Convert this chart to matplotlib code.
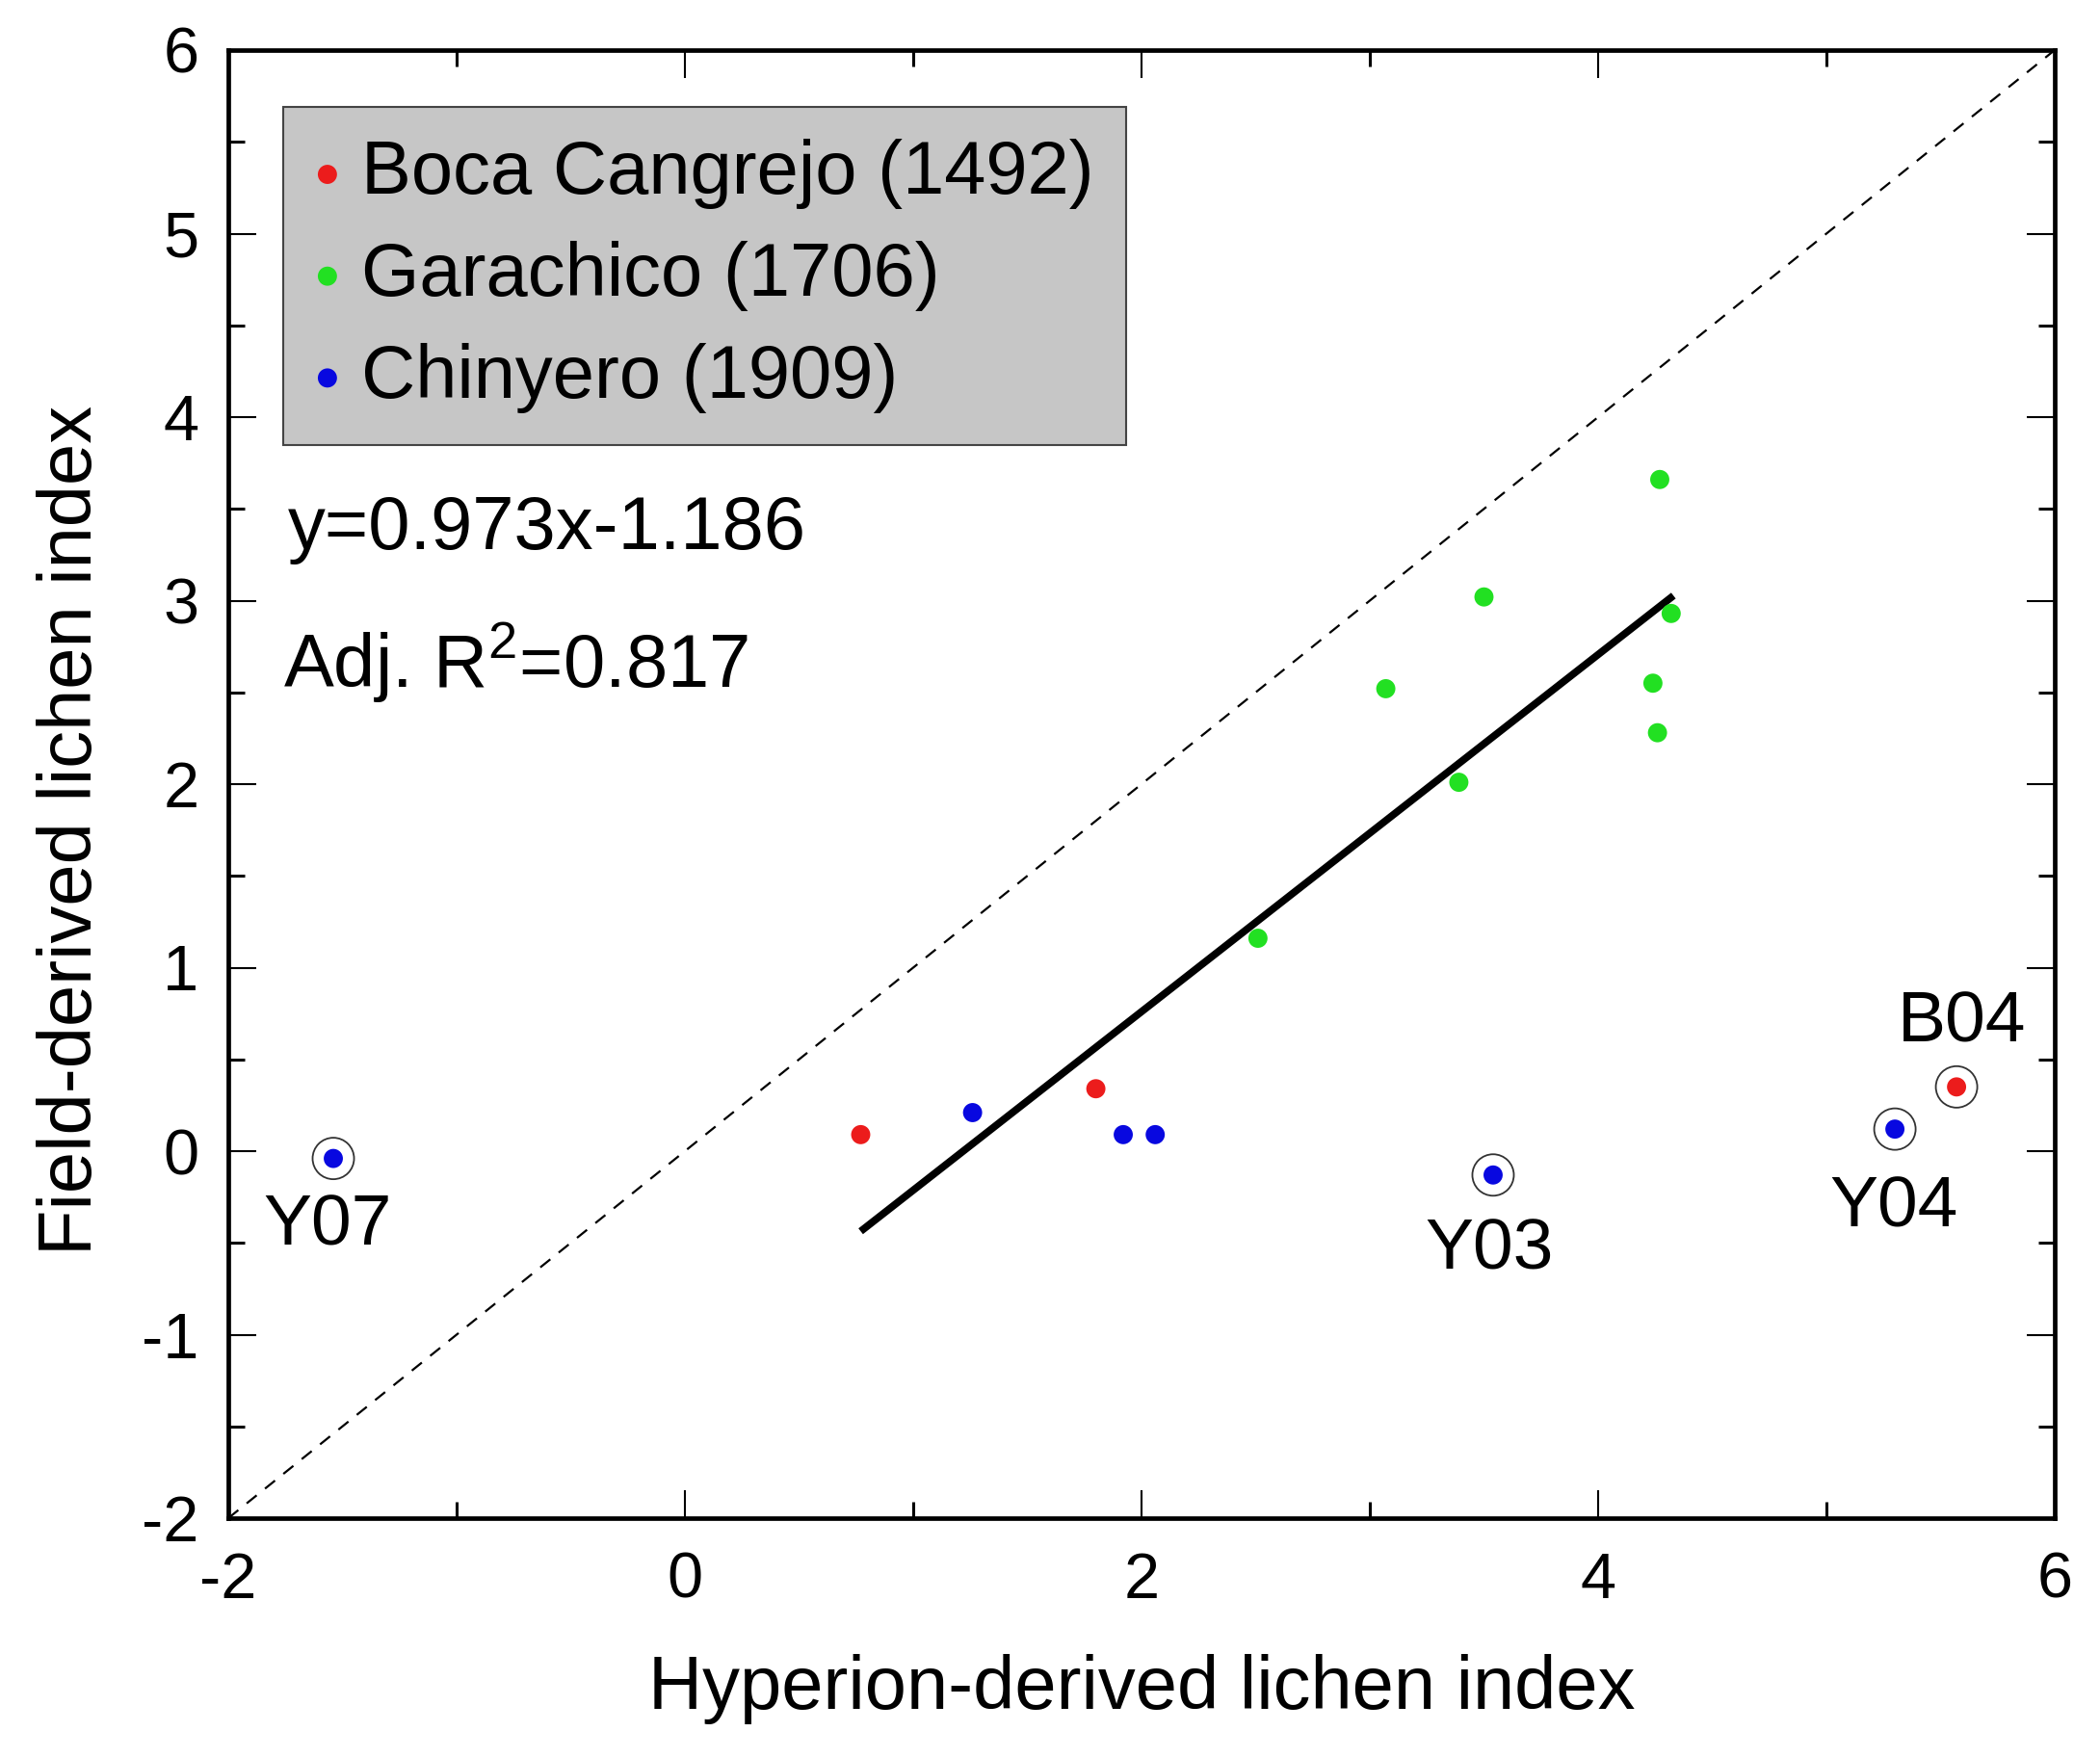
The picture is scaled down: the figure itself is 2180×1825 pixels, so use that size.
import numpy as np
import matplotlib
matplotlib.use('Agg')
import matplotlib.pyplot as plt
from matplotlib.ticker import MultipleLocator

plt.rcParams['font.family'] = ['Liberation Sans', 'DejaVu Sans']
plt.rcParams['axes.unicode_minus'] = False
plt.rcParams['mathtext.fontset'] = 'custom'
plt.rcParams['mathtext.rm'] = 'Liberation Sans'

# Data (Hyperion index, field index)
boca_x = [0.77, 1.80, 5.57]
boca_y = [0.09, 0.34, 0.35]
gara_x = [4.27, 3.50, 4.32, 3.07, 4.24, 4.26, 3.39, 2.51]
gara_y = [3.66, 3.02, 2.93, 2.52, 2.55, 2.28, 2.01, 1.16]
chin_x = [1.26, 1.92, 2.06, -1.54, 3.54, 5.30]
chin_y = [0.21, 0.09, 0.09, -0.04, -0.13, 0.12]

# outliers (circled, excluded from the fit)
outlier_names = ['Y07', 'Y03', 'Y04', 'B04']
outlier_x = [-1.54, 3.54, 5.30, 5.57]
outlier_y = [-0.04, -0.13, 0.12, 0.35]

slope = 0.973
intercept = -1.186
fit_x = [0.77, 4.33]

red = '#ec1c1c'
green = '#22e022'
blue = '#0808e0'

fig = plt.figure(figsize=(21.8, 18.25), dpi=100)
ax = fig.add_axes([237 / 2180, 1 - 1576 / 1825, (2133 - 237) / 2180, (1576 - 52) / 1825])

# 1:1 line
ax.plot([-2, 6], [-2, 6], ls=(0, (6, 5)), color='black', lw=1.6, zorder=1)

# regression line
fx = np.array(fit_x)
ax.plot(fx, slope * fx + intercept, color='black', lw=5.5, solid_capstyle='butt', zorder=2)

ms = 205
ax.scatter(boca_x, boca_y, s=ms, color=red, edgecolors='none', zorder=4, label='Boca Cangrejo (1492)')
ax.scatter(gara_x, gara_y, s=ms, color=green, edgecolors='none', zorder=4, label='Garachico (1706)')
ax.scatter(chin_x, chin_y, s=ms, color=blue, edgecolors='none', zorder=4, label='Chinyero (1909)')

# open circles around the outliers
ax.scatter(outlier_x, outlier_y, s=960, facecolors='none', edgecolors='#333333', linewidths=1.3, zorder=3)

# labels for the outliers (offsets in points)
label_offsets = [(-4, -51), (-3, -56), (-1, -59), (4, 48)]
for name, x, y, off in zip(outlier_names, outlier_x, outlier_y, label_offsets):
    ax.annotate(name, (x, y), xytext=off, textcoords='offset points',
                ha='center', va='center', fontsize=54)

ax.set_xlim(-2, 6)
ax.set_ylim(-2, 6)
ax.xaxis.set_major_locator(MultipleLocator(2))
ax.xaxis.set_minor_locator(MultipleLocator(1))
ax.yaxis.set_major_locator(MultipleLocator(1))
ax.yaxis.set_minor_locator(MultipleLocator(0.5))
ax.tick_params(which='both', direction='in', top=True, right=True)
ax.tick_params(which='major', length=21, width=1.5, labelsize=48)
ax.tick_params(which='minor', length=12, width=2.2)
ax.tick_params(axis='x', which='major', pad=25)
ax.tick_params(axis='y', which='major', pad=22)
for sp in ax.spines.values():
    sp.set_linewidth(3.4)

fig.text(1185 / 2180, 1 - 1753 / 1825, 'Hyperion-derived lichen index', fontsize=56,
         ha='center', va='center')
fig.text(75 / 2180, 1 - 862 / 1825, 'Field-derived lichen index', fontsize=56,
         ha='center', va='center', rotation=90)

ax.text(299 / 2180, 1 - 549 / 1825, 'y=0.973x-1.186', fontsize=56,
        transform=fig.transFigure, ha='left', va='center')
ax.text(294 / 2180, 1 - 688 / 1825, r'Adj. R$^{2}$=0.817', fontsize=56,
        transform=fig.transFigure, ha='left', va='center')

leg = ax.legend(loc='upper left', bbox_to_anchor=(294 / 2180, 1 - 111 / 1825),
                bbox_transform=fig.transFigure, borderaxespad=0, fontsize=56,
                frameon=True, fancybox=False, framealpha=1, facecolor='#c6c6c6',
                edgecolor='#444444', handlelength=0.32, handletextpad=0.29,
                borderpad=0.43, labelspacing=0.42, markerscale=1.0, scatterpoints=1)
leg.get_frame().set_linewidth(1.5)

fig.savefig('out.png', dpi=100)
